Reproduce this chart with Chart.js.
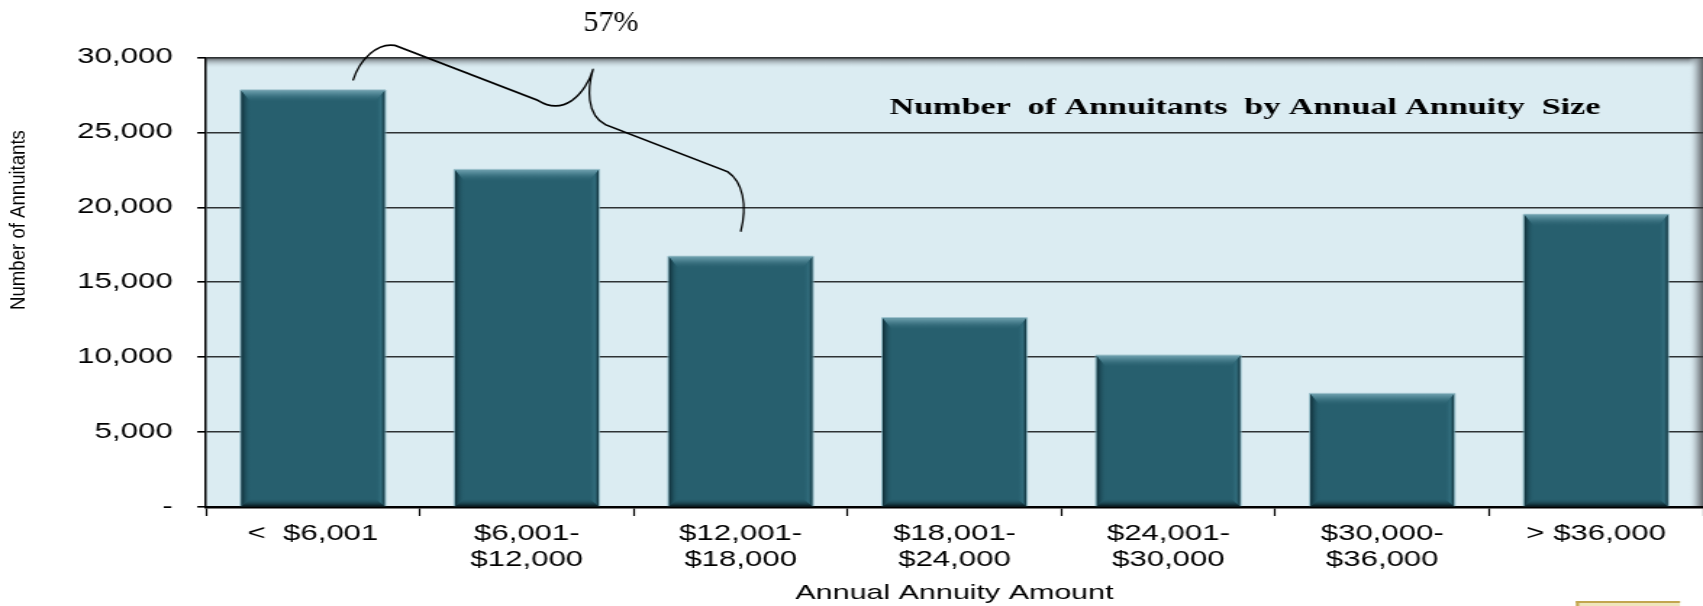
<!DOCTYPE html>
<html>
<head>
<meta charset="utf-8">
<title>Number of Annuitants by Annual Annuity Size</title>
<script src="https://cdn.jsdelivr.net/npm/chart.js@4.4.1/dist/chart.umd.min.js"></script>
<style>
  html, body { margin: 0; padding: 0; background: #fff; overflow: hidden; }
  /* the whole chart is drawn narrow and then widened, like the old slide graphic */
  #wrap {
    position: absolute; left: 0; top: 0;
    width: 1175px; height: 606px;
    transform: scaleX(1.44936); transform-origin: 0 0;
  }
</style>
</head>
<body>
<div id="wrap"><canvas id="annuityChart"></canvas></div>
<script>
const categories = [
  '<  $6,001',
  ['$6,001-', '$12,000'],
  ['$12,001-', '$18,000'],
  ['$18,001-', '$24,000'],
  ['$24,001-', '$30,000'],
  ['$30,000-', '$36,000'],
  '> $36,000'
];
const annuitants = [27800, 22500, 16700, 12600, 10100, 7550, 19500];
const yTickLabels = ['-', '5,000', '10,000', '15,000', '20,000', '25,000', '30,000'];
const yMax = 30000;
const yStep = 5000;
const chartTitle = 'Number  of Annuitants  by Annual Annuity  Size';
const yTitle = 'Number of Annuitants';
const xTitle = 'Annual Annuity Amount';
// the brace groups the lowest three annuity bands
const braceFrom = 0;
const braceTo = 2;

const SX = 1703 / 1175; // horizontal widening applied by #wrap
const FONT = '"Liberation Sans", Arial, sans-serif';
const SERIF = '"Liberation Serif", "Times New Roman", serif';

function poly(ctx, pts, fill) {
  ctx.beginPath();
  ctx.moveTo(pts[0][0], pts[0][1]);
  for (let i = 1; i < pts.length; i++) ctx.lineTo(pts[i][0], pts[i][1]);
  ctx.closePath();
  ctx.fillStyle = fill;
  ctx.fill();
}

// light blue plot panel with a soft shadow along the top and right edges
const plotBackground = {
  id: 'plotBackground',
  beforeDraw(chart) {
    const { ctx, chartArea: a } = chart;
    ctx.save();
    ctx.fillStyle = '#DBECF2';
    ctx.fillRect(a.left, a.top, a.width, a.height);

    let g = ctx.createLinearGradient(0, a.top, 0, a.top + 11);
    g.addColorStop(0, 'rgba(84,86,90,1)');
    g.addColorStop(0.35, 'rgba(140,150,156,0.7)');
    g.addColorStop(1, 'rgba(219,236,242,0)');
    ctx.fillStyle = g;
    ctx.fillRect(a.left, a.top, a.width, 11);

    g = ctx.createLinearGradient(a.right - 10, 0, a.right, 0);
    g.addColorStop(0, 'rgba(219,236,242,0)');
    g.addColorStop(0.6, 'rgba(150,160,166,0.8)');
    g.addColorStop(1, 'rgba(96,100,104,1)');
    ctx.fillStyle = g;
    ctx.fillRect(a.right - 10, a.top, 10, a.height);
    ctx.restore();
  }
};

// bevelled edges on top of the flat bars
const barBevel = {
  id: 'barBevel',
  afterDatasetsDraw(chart) {
    const ctx = chart.ctx;
    chart.getDatasetMeta(0).data.forEach(bar => {
      const l = bar.x - bar.width / 2;
      const r = bar.x + bar.width / 2;
      const t = bar.y;
      const b = bar.base;
      const sw = 10 / SX, tw = 12, bw = 8;
      ctx.save();

      let g = ctx.createLinearGradient(0, t, 0, t + tw);
      g.addColorStop(0, 'rgba(110,160,174,1)');
      g.addColorStop(0.35, 'rgba(76,130,145,0.9)');
      g.addColorStop(1, 'rgba(39,95,110,0)');
      poly(ctx, [[l, t], [r, t], [r - sw, t + tw], [l + sw, t + tw]], g);

      g = ctx.createLinearGradient(l, 0, l + sw, 0);
      g.addColorStop(0, 'rgba(14,44,54,1)');
      g.addColorStop(1, 'rgba(39,95,110,0)');
      poly(ctx, [[l, t], [l + sw, t + tw], [l + sw, b - bw], [l, b]], g);

      g = ctx.createLinearGradient(r, 0, r - sw, 0);
      g.addColorStop(0, 'rgba(16,48,58,1)');
      g.addColorStop(0.4, 'rgba(52,112,128,0.8)');
      g.addColorStop(1, 'rgba(39,95,110,0)');
      poly(ctx, [[r, t], [r - sw, t + tw], [r - sw, b - bw], [r, b]], g);

      g = ctx.createLinearGradient(0, b - bw, 0, b);
      g.addColorStop(0, 'rgba(39,95,110,0)');
      g.addColorStop(1, 'rgba(8,26,32,1)');
      poly(ctx, [[l, b], [l + sw, b - bw], [r - sw, b - bw], [r, b]], g);

      ctx.strokeStyle = 'rgba(120,168,182,0.75)';
      ctx.lineWidth = 1;
      ctx.beginPath();
      ctx.moveTo(l - 0.5, b);
      ctx.lineTo(l - 0.5, t - 0.5);
      ctx.lineTo(r + 0.5, t - 0.5);
      ctx.lineTo(r + 0.5, b);
      ctx.stroke();
      ctx.restore();
    });
  }
};

// panel title, y axis caption and the brace with its share label
const annotations = {
  id: 'annotations',
  afterDraw(chart) {
    const { ctx, chartArea: a } = chart;
    const bars = chart.getDatasetMeta(0).data;

    ctx.save();
    ctx.fillStyle = '#000';
    ctx.font = 'bold 23.5px ' + SERIF;
    ctx.textAlign = 'center';
    ctx.textBaseline = 'alphabetic';
    ctx.fillText(chartTitle, a.left + a.width * 0.694, 114);
    ctx.restore();

    // everything below is laid out in unwidened page pixels
    ctx.save();
    ctx.scale(1 / SX, 1);

    const first = bars[braceFrom];
    const last = bars[braceTo];
    const s = [first.x * SX + 40, first.y - 10];
    const e = [last.x * SX, last.y - 25];
    const cusp = [s[0] + 240, s[1] - 11];

    ctx.strokeStyle = '#000';
    ctx.lineWidth = 1.8;
    ctx.lineJoin = 'round';
    ctx.beginPath();
    ctx.moveTo(s[0], s[1]);
    ctx.bezierCurveTo(s[0] + 7, s[1] - 22, s[0] + 25, s[1] - 38, s[0] + 42, s[1] - 35);
    ctx.lineTo(s[0] + 185, s[1] + 20);
    ctx.bezierCurveTo(s[0] + 195, s[1] + 26, s[0] + 207, s[1] + 28, s[0] + 219, s[1] + 20);
    ctx.bezierCurveTo(s[0] + 229, s[1] + 13, s[0] + 237, s[1], cusp[0], cusp[1]);
    ctx.bezierCurveTo(e[0] - 153, e[1] - 144, e[0] - 155, e[1] - 117, e[0] - 135, e[1] - 107);
    ctx.lineTo(e[0] - 13, e[1] - 60);
    ctx.bezierCurveTo(e[0] + 2, e[1] - 50, e[0] + 7, e[1] - 27, e[0], e[1]);
    ctx.stroke();

    const total = annuitants.reduce((acc, v) => acc + v, 0);
    const grouped = annuitants.slice(braceFrom, braceTo + 1).reduce((acc, v) => acc + v, 0);
    const share = Math.round(grouped / total * 100);
    ctx.fillStyle = '#000';
    ctx.font = '30px ' + SERIF;
    ctx.textAlign = 'center';
    ctx.textBaseline = 'alphabetic';
    ctx.fillText(share + '%', cusp[0] + 18, cusp[1] - 38);

    ctx.save();
    ctx.translate(18.5, 220);
    ctx.scale(1.2, 1);
    ctx.rotate(-Math.PI / 2);
    ctx.font = '18.6px ' + FONT;
    ctx.textBaseline = 'middle';
    ctx.fillText(yTitle, 0, 0);
    ctx.restore();

    // corner of the logo frame peeking in at the bottom right
    ctx.fillStyle = '#efe6bd';
    ctx.fillRect(1576, 601, 104, 5);
    ctx.fillStyle = '#c2a650';
    ctx.fillRect(1576, 601, 104, 2);
    ctx.fillRect(1576, 601, 3, 5);
    ctx.restore();
  }
};

const ctx = document.getElementById('annuityChart');
new Chart(ctx, {
  type: 'bar',
  data: {
    labels: categories,
    datasets: [{
      data: annuitants,
      backgroundColor: '#275F6E',
      borderWidth: 0,
      barPercentage: 0.672,
      categoryPercentage: 1
    }]
  },
  options: {
    responsive: true,
    maintainAspectRatio: false,
    animation: false,
    layout: { padding: { top: 57.5, right: 0, bottom: 0, left: 0 } },
    plugins: {
      legend: { display: false },
      tooltip: { enabled: false }
    },
    scales: {
      x: {
        afterFit: scale => { scale.height = 99; },
        grid: {
          offset: true,
          drawOnChartArea: false,
          drawTicks: true,
          tickLength: 9,
          tickColor: '#000',
          tickWidth: 1.2
        },
        border: { display: true, color: '#000', width: 2.5 },
        ticks: {
          autoSkip: false,
          maxRotation: 0,
          padding: 5,
          color: '#000',
          font: { family: FONT, size: 21.5, lineHeight: 1.2 }
        },
        title: {
          display: true,
          text: xTitle,
          color: '#000',
          font: { family: FONT, size: 21, lineHeight: 1 },
          padding: { top: 0, bottom: 2.5 }
        }
      },
      y: {
        min: 0,
        max: yMax,
        afterFit: scale => { scale.width = 206 / SX; },
        grid: {
          color: '#2e3234',
          lineWidth: 1.6,
          tickLength: 6,
          tickColor: '#000',
          tickWidth: 1.6
        },
        border: { display: true, color: '#000', width: 1.5 },
        ticks: {
          stepSize: yStep,
          padding: 17,
          color: '#000',
          font: { family: FONT, size: 21.5 },
          callback: (value, index) => yTickLabels[index]
        }
      }
    }
  },
  plugins: [plotBackground, barBevel, annotations]
});
</script>
</body>
</html>
